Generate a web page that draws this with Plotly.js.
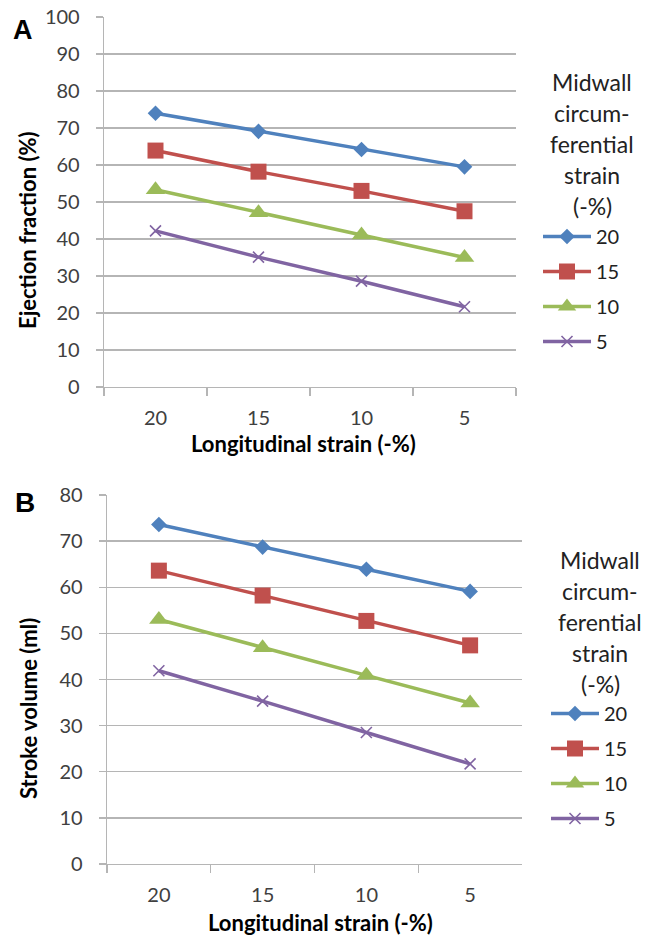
<!DOCTYPE html>
<html>
<head>
<meta charset="utf-8">
<script src="https://cdn.plot.ly/plotly-3.0.1.min.js"></script>
<style>html,body{margin:0;padding:0;background:#fff;}#chart{width:654px;height:944px;}</style>
</head>
<body>
<div id="chart"></div>
<script>
// Data
const longitudinalStrain = ['20', '15', '10', '5'];
const seriesNames = ['20', '15', '10', '5'];
// Panel A: Ejection fraction (%)
const efStrain20 = [74.0, 69.1, 64.2, 59.5];
const efStrain15 = [63.9, 58.2, 53.0, 47.5];
const efStrain10 = [53.3, 47.1, 41.1, 35.0];
const efStrain5  = [42.2, 35.1, 28.6, 21.7];
// Panel B: Stroke volume (ml)
const svStrain20 = [73.6, 68.7, 63.9, 59.1];
const svStrain15 = [63.6, 58.2, 52.7, 47.4];
const svStrain10 = [53.0, 46.9, 40.9, 34.9];
const svStrain5  = [41.9, 35.3, 28.5, 21.7];
const yTicksA = [0, 10, 20, 30, 40, 50, 60, 70, 80, 90, 100];
const yTicksB = [0, 10, 20, 30, 40, 50, 60, 70, 80];

const colors = ['#4F81BD', '#C0504D', '#9BBB59', '#8064A2'];
const symbols = ['diamond', 'square', 'triangle-up', 'x-thin'];
const msizes = [12, 16, 17, 11];
const W = 654, H = 944;
const px = v => v / W;
const py = v => 1 - v / H;
const FONT = 'Lato, "Open Sans", sans-serif';

function makeTraces(seriesList, xa, ya, legendId, grp) {
  return seriesList.map((vals, i) => ({
    type: 'scatter', mode: 'lines+markers',
    x: longitudinalStrain, y: vals, xaxis: xa, yaxis: ya,
    name: seriesNames[i], legend: legendId, legendgroup: grp + i,
    line: {color: colors[i], width: 3.5},
    marker: {symbol: symbols[i], size: msizes[i], color: colors[i],
             line: {color: colors[i], width: i === 3 ? 1.6 : 0}},
    hoverinfo: 'x+y+name'
  }));
}

const traces = [
  ...makeTraces([efStrain20, efStrain15, efStrain10, efStrain5], 'x', 'y', 'legend', 'a'),
  ...makeTraces([svStrain20, svStrain15, svStrain10, svStrain5], 'x2', 'y2', 'legend2', 'b')
];

const gridCol = '#B5B5B5';
function xAxis(domain, anchor) {
  return {domain: domain, anchor: anchor, type: 'category', categoryorder: 'array',
    categoryarray: longitudinalStrain, range: [-0.5, 3.5], tickson: 'boundaries',
    ticks: 'outside', ticklen: 8, tickcolor: gridCol, tickwidth: 1.3,
    showline: true, linecolor: gridCol, linewidth: 1.3, showgrid: false, zeroline: false,
    ticklabelstandoff: 13, tickfont: {family: FONT, size: 20, color: '#404040'}, fixedrange: true};
}
function yAxis(domain, anchor, maxV, tickvals) {
  return {domain: domain, anchor: anchor, range: [0, maxV], tickvals: tickvals,
    ticks: 'outside', ticklen: 7, tickcolor: gridCol, tickwidth: 1.3,
    showline: true, linecolor: gridCol, linewidth: 1.3, showgrid: true, gridcolor: gridCol, gridwidth: 1.3,
    zeroline: false, ticklabelstandoff: 12,
    tickfont: {family: FONT, size: 20, color: '#404040'}, fixedrange: true};
}

function legendCfg(x, yTop) {
  return {x: px(x), y: py(yTop), xanchor: 'left', yanchor: 'top', traceorder: 'grouped',
    tracegroupgap: 6, bgcolor: 'rgba(0,0,0,0)', itemsizing: 'trace', itemwidth: 48,
    font: {family: FONT, size: 20, color: '#222'}};
}

const annText = (text, x, y, opts = {}) => Object.assign({
  text: text, x: px(x), y: py(y), xref: 'paper', yref: 'paper', showarrow: false,
  xanchor: 'center', yanchor: 'middle', font: {family: FONT, size: 19, color: '#222'}
}, opts);

const legTitleA = [['Midwall', 82], ['circum-', 113], ['ferential', 144], ['strain', 175], ['(-%)', 206]];
const legTitleB = [['Midwall', 560], ['circum-', 591], ['ferential', 622], ['strain', 653], ['(-%)', 684]];

const titleFont = {family: FONT, size: 22, color: '#000'};
const legTitleFont = {family: FONT, size: 23, color: '#222'};
const annotations = [
  annText('<b>A</b>', 23, 30, {font: {family: 'Liberation Sans, Arial, sans-serif', size: 27, color: '#000'}}),
  annText('<b>B</b>', 25, 503, {font: {family: 'Liberation Sans, Arial, sans-serif', size: 28, color: '#000'}}),
  annText('<b>Ejection fraction (%)</b>', 27, 230, {textangle: -90, font: titleFont}),
  annText('<b>Stroke volume (ml)</b>', 28, 709, {textangle: -90, font: titleFont}),
  annText('<b>Longitudinal strain (-%)</b>', 303, 443, {font: titleFont}),
  annText('<b>Longitudinal strain (-%)</b>', 320, 922, {font: titleFont}),
  ...legTitleA.map(([t, y]) => annText(t, 592, y, {font: legTitleFont})),
  ...legTitleB.map(([t, y]) => annText(t, 600, y, {font: legTitleFont}))
];

const layout = {
  width: W, height: H, margin: {l: 0, r: 0, t: 0, b: 0},
  paper_bgcolor: '#fff', plot_bgcolor: '#fff', showlegend: true,
  xaxis: xAxis([px(104), px(516)], 'y'),
  yaxis: yAxis([py(387), py(17)], 'x', 100, yTicksA),
  xaxis2: xAxis([px(107), px(522)], 'y2'),
  yaxis2: yAxis([py(864), py(495)], 'x2', 80, yTicksB),
  legend: legendCfg(538, 217),
  legend2: legendCfg(546, 694),
  annotations: annotations
};

Plotly.newPlot('chart', traces, layout, {displayModeBar: false, staticPlot: true});
</script>
</body>
</html>
